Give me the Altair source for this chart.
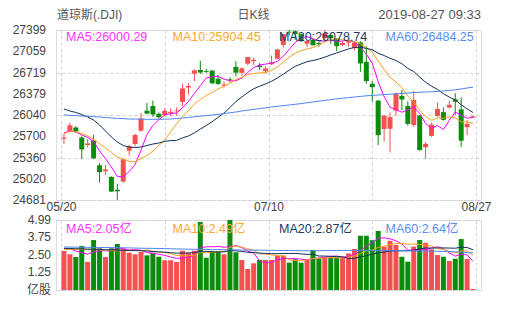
import altair as alt
import pandas as pd

dates = ["05/20", "05/21", "05/22", "05/23", "05/24", "05/28", "05/29", "05/30", "05/31",
         "06/03", "06/04", "06/05", "06/06", "06/07", "06/10", "06/11", "06/12", "06/13", "06/14",
         "06/17", "06/18", "06/19", "06/20", "06/21", "06/24", "06/25", "06/26", "06/27", "06/28",
         "07/01", "07/02", "07/03", "07/05", "07/08", "07/09", "07/10", "07/11", "07/12", "07/15",
         "07/16", "07/17", "07/18", "07/19", "07/22", "07/23", "07/24", "07/25", "07/26", "07/29",
         "07/30", "07/31", "08/01", "08/02", "08/05", "08/06", "08/07", "08/08", "08/09", "08/12",
         "08/13", "08/14", "08/15", "08/16", "08/19", "08/20", "08/21", "08/22", "08/23", "08/26",
         "08/27"]

opens = [25660, 25770, 25840, 25680, 25560, 25630, 25236, 25140, 25050, 24845,
         24975, 25470, 25576, 25790, 26110, 26185, 26060, 26040, 26070, 26100,
         26250, 26480, 26700, 26760, 26740, 26750, 26620, 26510, 26610, 26810,
         26715, 26860, 26900, 26830, 26740, 26850, 26940, 27160, 27370, 27380,
         27330, 27180, 27245, 27190, 27270, 27320, 27260, 27160, 27195, 27110,
         27200, 26890, 26540, 26270, 25816, 25820, 26110, 26345, 26185, 25880,
         26030, 25525, 25705, 26025, 26085, 26160, 26290, 26130, 25845, 26000]
highs = [25740, 25920, 25860, 25700, 25660, 25720, 25270, 25240, 25060, 24940,
         25340, 25560, 25740, 26070, 26230, 26270, 26080, 26150, 26150, 26160,
         26540, 26550, 26770, 26907, 26780, 26760, 26680, 26580, 26640, 26900,
         26800, 26970, 26960, 26870, 26820, 26990, 27100, 27340, 27399, 27395,
         27340, 27240, 27270, 27210, 27399, 27330, 27270, 27220, 27230, 27220,
         27220, 27140, 26580, 26280, 26040, 26080, 26400, 26440, 26260, 26430,
         26040, 25610, 25920, 26240, 26160, 26270, 26390, 26320, 25960, 26030]
lows = [25575, 25760, 25760, 25340, 25520, 25340, 24960, 25080, 24810, 24681,
        24960, 25390, 25540, 25770, 26050, 26010, 25980, 26020, 26020, 26030,
        26180, 26370, 26580, 26700, 26710, 26530, 26520, 26480, 26560, 26660,
        26660, 26840, 26840, 26760, 26700, 26840, 26930, 27120, 27310, 27240,
        27210, 27130, 27150, 27130, 27200, 27180, 27060, 27140, 27130, 27070,
        26730, 26540, 26250, 25560, 25620, 25440, 26030, 26120, 25870, 25850,
        25470, 25340, 25690, 26010, 25950, 26140, 26040, 25530, 25720, 25990]
closes = [25680, 25877, 25777, 25490, 25585, 25347, 25126, 25170, 24815, 24820,
          25332, 25540, 25721, 25984, 26062, 26048, 26005, 26107, 26090, 26112,
          26465, 26504, 26753, 26719, 26727, 26548, 26537, 26527, 26600, 26717,
          26787, 26966, 26922, 26806, 26783, 26880, 27088, 27332, 27359, 27336,
          27220, 27223, 27154, 27172, 27349, 27270, 27141, 27192, 27221, 27198,
          26864, 26583, 26485, 25718, 26030, 26007, 26378, 26287, 25898, 26280,
          25479, 25579, 25886, 26136, 25962, 26203, 26252, 25629, 25899, 26019]
volumes = [2.78, 2.54, 2.35, 3.14, 2.00, 3.56, 2.97, 2.35, 2.97, 3.28,
           2.97, 2.66, 2.54, 2.71, 2.47, 2.66, 2.37, 2.12, 2.12, 2.00,
           2.80, 2.66, 2.80, 4.85, 2.30, 2.78, 2.78, 2.54, 4.99, 2.69,
           2.14, 1.50, 1.90, 2.14, 2.14, 2.14, 2.45, 2.45, 1.95, 2.19,
           1.95, 2.19, 2.85, 2.26, 2.37, 2.33, 2.33, 2.37, 2.61, 2.92,
           3.87, 3.87, 3.55, 4.21, 3.09, 3.51, 3.21, 2.37, 2.02, 3.09,
           3.56, 3.37, 2.90, 2.49, 2.37, 2.07, 2.23, 3.63, 2.21, 0.07]

ma5 = [25752, 25789, 25768, 25720, 25682, 25615, 25465, 25344, 25209, 25056,
       25053, 25135, 25246, 25479, 25728, 25871, 25964, 26041, 26062, 26072,
       26156, 26256, 26385, 26511, 26634, 26650, 26657, 26612, 26588, 26586,
       26634, 26719, 26798, 26840, 26853, 26871, 26896, 26978, 27088, 27199,
       27267, 27294, 27258, 27221, 27224, 27234, 27217, 27225, 27235, 27204,
       27123, 27012, 26870, 26570, 26336, 26165, 26124, 26084, 26120, 26170,
       26064, 25905, 25824, 25872, 25808, 25953, 26088, 26036, 25989, 26000]
ma10 = [25736, 25784, 25768, 25745, 25705, 25650, 25585, 25515, 25440, 25369,
        25334, 25300, 25295, 25344, 25392, 25462, 25550, 25643, 25771, 25900,
        26013, 26110, 26213, 26287, 26353, 26403, 26456, 26498, 26549, 26610,
        26642, 26688, 26705, 26714, 26719, 26753, 26808, 26888, 26964, 27026,
        27069, 27095, 27118, 27155, 27211, 27250, 27256, 27242, 27228, 27214,
        27178, 27114, 27048, 26902, 26770, 26644, 26568, 26477, 26345, 26253,
        26115, 26014, 25954, 25996, 25989, 26009, 25996, 25930, 25931, 25904]
ma20 = [26136, 26104, 26080, 26048, 26008, 25960, 25880, 25784, 25688, 25608,
        25552, 25528, 25520, 25528, 25552, 25576, 25592, 25619, 25632, 25634,
        25674, 25705, 25754, 25815, 25872, 25932, 26003, 26071, 26160, 26255,
        26328, 26399, 26459, 26500, 26536, 26578, 26632, 26693, 26757, 26818,
        26856, 26892, 26912, 26934, 26965, 27001, 27032, 27065, 27096, 27120,
        27124, 27105, 27083, 27028, 26991, 26947, 26912, 26859, 26786, 26734,
        26646, 26564, 26501, 26449, 26380, 26326, 26282, 26204, 26138, 26079]
ma60 = [26040, 26035, 26030, 26024, 26019, 26014, 26008, 26000, 25992, 25987,
        25982, 25976, 25976, 25973, 25971, 25971, 25971, 25973, 25976, 25984,
        25992, 26001, 26011, 26021, 26030, 26040, 26049, 26062, 26075, 26088,
        26104, 26117, 26129, 26142, 26155, 26168, 26179, 26190, 26200, 26211,
        26222, 26235, 26248, 26261, 26273, 26286, 26299, 26308, 26318, 26328,
        26337, 26347, 26353, 26360, 26366, 26372, 26379, 26385, 26392, 26398,
        26403, 26408, 26412, 26417, 26424, 26433, 26443, 26456, 26472, 26484]

vma5 = [2.96, 2.92, 2.78, 2.67, 2.56, 2.72, 2.80, 2.80, 2.77, 3.03,
        2.91, 2.85, 2.88, 2.83, 2.67, 2.61, 2.55, 2.47, 2.35, 2.25,
        2.28, 2.34, 2.48, 3.02, 3.08, 3.08, 3.10, 3.05, 3.08, 3.16,
        3.03, 2.77, 2.64, 2.07, 1.96, 1.96, 2.15, 2.26, 2.23, 2.24,
        2.20, 2.15, 2.23, 2.29, 2.32, 2.40, 2.43, 2.33, 2.40, 2.51,
        2.82, 3.13, 3.36, 3.68, 3.72, 3.65, 3.51, 3.28, 2.84, 2.84,
        2.85, 2.88, 2.99, 3.08, 2.94, 2.64, 2.41, 2.56, 2.50, 2.05]
vma10 = [2.90, 2.90, 2.90, 2.90, 2.90, 2.90, 2.86, 2.83, 2.81, 2.79,
         2.81, 2.83, 2.84, 2.80, 2.85, 2.76, 2.70, 2.68, 2.59, 2.46,
         2.45, 2.45, 2.47, 2.69, 2.67, 2.68, 2.72, 2.76, 3.05, 3.12,
         3.05, 2.94, 2.85, 2.58, 2.56, 2.50, 2.46, 2.45, 2.15, 2.10,
         2.08, 2.15, 2.25, 2.26, 2.28, 2.30, 2.29, 2.28, 2.35, 2.42,
         2.61, 2.78, 2.85, 3.04, 3.12, 3.23, 3.32, 3.32, 3.26, 3.28,
         3.25, 3.20, 3.13, 2.96, 2.89, 2.75, 2.65, 2.77, 2.79, 2.49]
vma20 = [2.97, 2.96, 2.94, 2.93, 2.91, 2.90, 2.89, 2.87, 2.86, 2.84,
         2.83, 2.82, 2.81, 2.80, 2.78, 2.75, 2.72, 2.69, 2.66, 2.63,
         2.63, 2.64, 2.66, 2.74, 2.76, 2.72, 2.71, 2.72, 2.82, 2.79,
         2.75, 2.69, 2.66, 2.63, 2.61, 2.59, 2.59, 2.61, 2.60, 2.61,
         2.57, 2.54, 2.55, 2.42, 2.42, 2.40, 2.38, 2.37, 2.25, 2.26,
         2.35, 2.46, 2.55, 2.65, 2.70, 2.77, 2.80, 2.80, 2.80, 2.85,
         2.93, 2.99, 2.99, 3.00, 3.00, 2.99, 2.98, 3.05, 3.03, 2.87]
vma60 = [3.06, 3.06, 3.05, 3.05, 3.04, 3.04, 3.03, 3.03, 3.02, 3.02,
         3.01, 3.00, 2.99, 2.98, 2.97, 2.97, 2.96, 2.95, 2.94, 2.93,
         2.92, 2.91, 2.90, 2.90, 2.89, 2.88, 2.88, 2.87, 2.86, 2.86,
         2.85, 2.85, 2.84, 2.84, 2.83, 2.83, 2.82, 2.82, 2.81, 2.81,
         2.80, 2.80, 2.80, 2.80, 2.81, 2.81, 2.81, 2.81, 2.82, 2.82,
         2.82, 2.82, 2.81, 2.81, 2.81, 2.80, 2.80, 2.80, 2.79, 2.79,
         2.79, 2.78, 2.77, 2.76, 2.75, 2.74, 2.72, 2.70, 2.67, 2.64]

price_ticks = [24681, 25020, 25360, 25700, 26040, 26379, 26719, 27059, 27399]
vol_ticks = [0, 1.25, 2.50, 3.75, 4.99]
ma_names = ["MA5", "MA10", "MA20", "MA60"]
ma_price_values = ["26000.29", "25904.45", "26078.74", "26484.25"]
ma_vol_values = ["2.05", "2.49", "2.87", "2.64"]
vol_suffix = "亿"
vol_unit = "亿股"
title_left = "道琼斯(.DJI)"
title_mid = "日K线"
title_right = "2019-08-27 09:33"

RED = "#f5504f"
GREEN = "#0b8c0b"
LINE_COLORS = ["#ff00ff", "#f7a21b", "#11305a", "#4f83f0"]
TEXT_COLORS = ["#ff33ff", "#f7a932", "#1d3a62", "#5b8cf2"]
FONT = "Liberation Sans, Arial, Noto Sans CJK SC, sans-serif"
GRID = "#d0d0d0"
LABEL = "#444"

n = len(dates)
df = pd.DataFrame({
    "i": list(range(n)), "date": dates, "open": opens, "high": highs, "low": lows,
    "close": closes, "vol": volumes, "ma5": ma5, "ma10": ma10, "ma20": ma20, "ma60": ma60,
    "vma5": vma5, "vma10": vma10, "vma20": vma20, "vma60": vma60,
})
df["dir"] = ["up" if c >= o else "down" for o, c in zip(opens, closes)]

quarters = [-0.5 + n * k / 4 for k in range(5)]
mid = (n - 1) / 2
date_expr = (f"datum.value < 0 ? '{dates[0]}' : (datum.value > {n - 1} ? '{dates[-1]}' : "
             f"(abs(datum.value - {mid}) < 0.01 ? '{dates[n // 2]}' : ''))")

xscale = alt.Scale(domain=[-0.5, n - 0.5], nice=False, zero=False)
x_main = alt.X("i:Q", scale=xscale, title=None,
               axis=alt.Axis(values=quarters, grid=True, gridDash=[3, 3], gridColor=GRID,
                             ticks=False, domain=False, labelExpr=date_expr, labelFlush=True,
                             labelOverlap=False, labelPadding=1, labelFontSize=12,
                             labelColor=LABEL, labelFont=FONT))
x_vol = alt.X("i:Q", scale=xscale, title=None,
              axis=alt.Axis(values=quarters, grid=True, gridDash=[3, 3], gridColor=GRID,
                            ticks=False, domain=False, labels=False))
color = alt.Color("dir:N", scale=alt.Scale(domain=["up", "down"], range=[RED, GREEN]), legend=None)

y_price = alt.Y("low:Q", scale=alt.Scale(domain=[price_ticks[0], price_ticks[-1]], nice=False, zero=False),
                title=None,
                axis=alt.Axis(values=price_ticks, grid=True, gridDash=[3, 3], gridColor=GRID,
                              ticks=False, domain=False, labels=False))

base = alt.Chart(df)
wicks = base.mark_rule(strokeWidth=1, clip=True).encode(x=x_main, y=y_price, y2="high:Q", color=color)
bodies = base.mark_bar(width=5, clip=True).encode(x=x_main, y="open:Q", y2="close:Q", color=color)
ma_lines = [base.mark_line(strokeWidth=1, clip=True, color=c).encode(x=x_main, y=f"{f}:Q")
            for f, c in zip(["ma5", "ma10", "ma20", "ma60"], LINE_COLORS)]

price_labels = alt.Chart(pd.DataFrame({"v": price_ticks, "lab": [str(t) for t in price_ticks]})).mark_text(
    align="right", baseline="middle", fontSize=12, font=FONT, color=LABEL
).encode(y="v:Q", text="lab:N", x=alt.value(-10))


def label(text, x, y, col, align="left", size=12.5):
    return alt.Chart(pd.DataFrame({"t": [text]})).mark_text(
        align=align, baseline="middle", fontSize=size, font=FONT, color=col
    ).encode(text="t:N", x=alt.value(x), y=alt.value(y))


legend_x = [10, 116.5, 223, 329.5]
main_legend = [label(f"{nm}:{v}", lx, 7, tc)
               for nm, v, lx, tc in zip(ma_names, ma_price_values, legend_x, TEXT_COLORS)]
titles = [label(title_left, 1, -15, "#555", "left", 12),
          label(title_mid, 197.5, -15, "#555", "center", 12),
          label(title_right, 425, -15, "#555", "right", 13)]

main = alt.layer(wicks, bodies, *ma_lines, price_labels, *main_legend, *titles).properties(
    width=425, height=170)

y_vol = alt.Y("vol:Q", scale=alt.Scale(domain=[0, vol_ticks[-1]], nice=False, zero=True), title=None,
              axis=alt.Axis(values=vol_ticks, grid=True, gridDash=[3, 3], gridColor=GRID,
                            ticks=False, domain=False, labels=False))
vbars = base.mark_bar(width=5, clip=True).encode(x=x_vol, y=y_vol, color=color)
vma_lines = [base.mark_line(strokeWidth=1, clip=True, color=c).encode(x=x_vol, y=f"{f}:Q")
             for f, c in zip(["vma5", "vma10", "vma20", "vma60"], LINE_COLORS)]
vol_tick_labels = [vol_unit if t == 0 else f"{t:.2f}" for t in vol_ticks]
vol_labels = alt.Chart(pd.DataFrame({"v": vol_ticks, "lab": vol_tick_labels})).mark_text(
    align="right", baseline="middle", fontSize=12, font=FONT, color=LABEL
).encode(y="v:Q", text="lab:N", x=alt.value(-5))
vol_legend = [label(f"{nm}:{v}{vol_suffix}", lx, 8.5, tc)
              for nm, v, lx, tc in zip(ma_names, ma_vol_values, legend_x, TEXT_COLORS)]
vol = alt.layer(vbars, *vma_lines, vol_labels, *vol_legend).properties(width=425, height=70)

chart = alt.vconcat(main, vol, spacing=20, bounds="flush").properties(
    padding={"left": 12, "top": 8, "right": 5, "bottom": 5}
).configure_view(stroke="#9a9a9a", strokeWidth=1).configure(background="white")

chart.save("out.html", embed_options={"renderer": "svg", "actions": False})
